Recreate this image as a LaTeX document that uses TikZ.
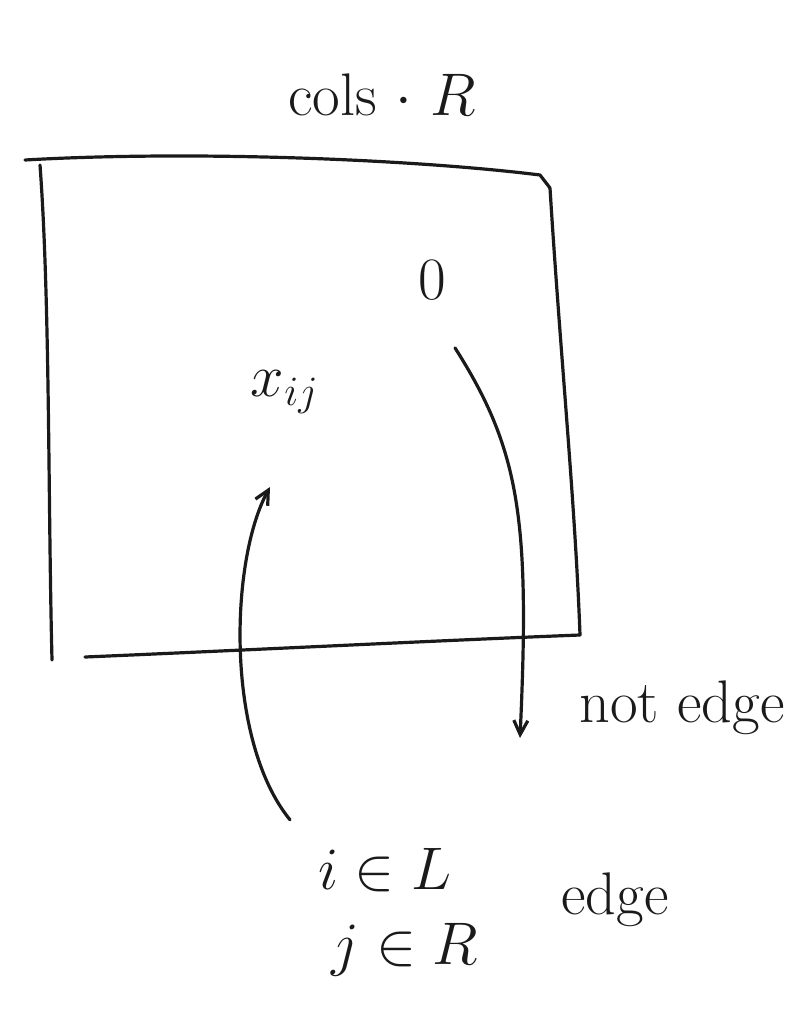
\documentclass[tikz,border=0pt]{standalone}
\usepackage{amsmath,amssymb}
\usepackage{tikz}
\usetikzlibrary{arrows.meta,positioning}
\definecolor{inkx}{HTML}{1A1A1A}
\tikzset{
  pen/.style={draw=inkx,line width=3.2pt,line cap=round,line join=round},
  ar/.style={pen,-{Straight Barb[length=14pt,width=14pt]}},
  hand/.style={text=inkx,inner sep=1pt,font=\huge,scale=2.9}
}

\begin{document}
\begin{tikzpicture}[x=1pt,y=-1pt]
\useasboundingbox (0,0) rectangle (793,1020);
% the matrix box
\draw[pen] (25,160) .. controls (200,150) and (420,160) .. (540,175) -- (550,188);
\draw[pen] (40,165) .. controls (50,300) and (48,500) .. (52,660);
\draw[pen] (85,657) .. controls (250,650) and (450,640) .. (580,635);
\draw[pen] (550,188) .. controls (560,350) and (575,500) .. (580,635);
% labels
\node[hand] (cols) at (382,95) {cols $\cdot$ $R$};
\node[hand] (zero) at (432,280) {$0$};
\node[hand] (xij) at (285,392) {$x_{ij}$};
\node[hand] (notedge) at (682,708) {not edge};
\node[hand] (iL) at (385,870) {$i\in L$};
\node[hand] (jR) at (405,950) {$j\in R$};
\node[hand] (edge) at (615,900) {edge};
\coordinate (tipN) at (520,738);
% arrows
\draw[ar] ([xshift=23pt,yshift=-45pt]zero.south) .. controls (520,450) and (530,520) .. (tipN);
\draw[ar] ([xshift=-95pt,yshift=25pt]iL.north) .. controls (225,740) and (230,560) .. ([xshift=-15pt,yshift=-70pt]xij.south);
\end{tikzpicture}
\end{document}
